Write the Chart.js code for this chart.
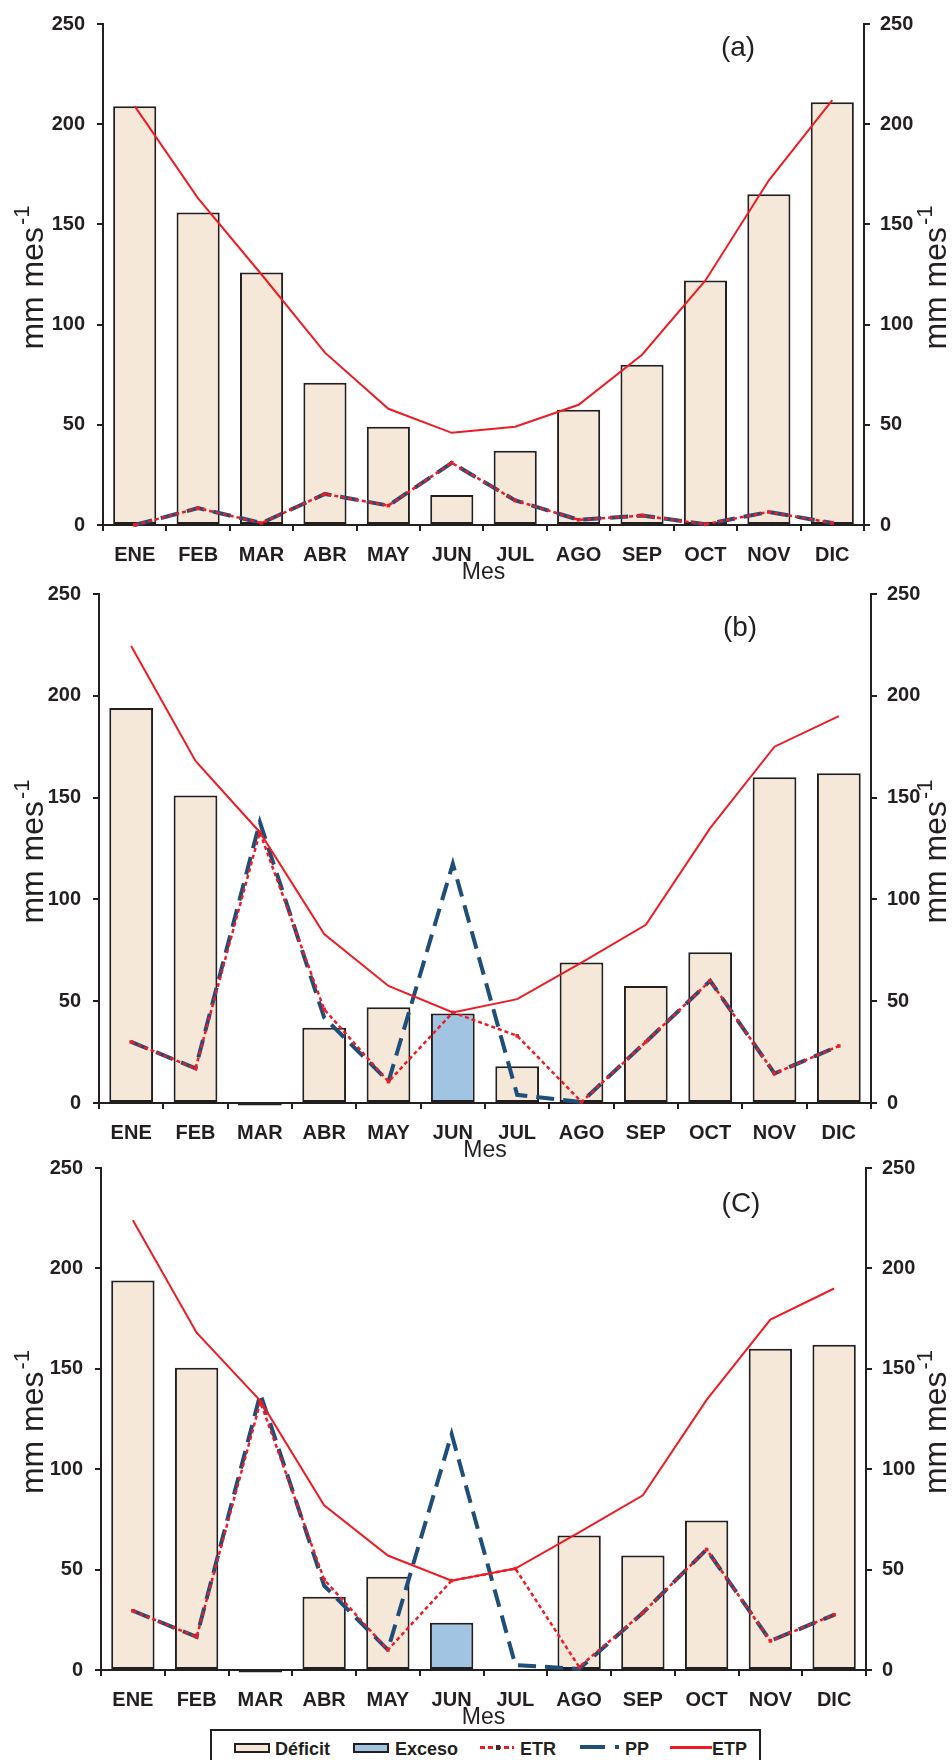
<!DOCTYPE html>
<html>
<head>
<meta charset="utf-8">
<script src="https://cdn.jsdelivr.net/npm/chart.js@4.4.1/dist/chart.umd.min.js"></script>
<style>
  html, body { margin:0; padding:0; background:#fff; }
  body { width:952px; height:1760px; position:relative; overflow:hidden; font-family:"Liberation Sans", Arial, sans-serif; }
  canvas { position:absolute; left:0; }
  #legend { position:absolute; left:210px; top:1729px; width:551px; height:44px; border:2px solid #231f20; box-sizing:border-box; background:#fff; }
  .lg { position:absolute; font-weight:bold; font-size:18px; color:#231f20; top:8px; line-height:20px; }
  .sw { position:absolute; top:12px; height:10px; box-sizing:border-box; border:2px solid #231f20; }
  .ln { position:absolute; }
</style>
</head>
<body>
<canvas id="cA"></canvas>
<canvas id="cB"></canvas>
<canvas id="cC"></canvas>
<div id="legend">
  <div class="sw" style="left:22px;width:36px;background:#f5e8d9"></div>
  <div class="lg" style="left:63px">Déficit</div>
  <div class="sw" style="left:141px;width:36px;background:#a0c4e2"></div>
  <div class="lg" style="left:183px">Exceso</div>
  <div class="ln" style="left:268px;top:15px;width:34px;height:3px;background:repeating-linear-gradient(90deg,#ed1c24 0 5px,transparent 5px 8px)"></div>
  <div class="ln" style="left:284px;top:14px;width:4px;height:5px;background:#3a2a2a"></div>
  <div class="lg" style="left:308px">ETR</div>
  <div class="ln" style="left:368px;top:14px;width:25px;height:4px;background:#1f4e79"></div>
  <div class="ln" style="left:403px;top:14px;width:4px;height:4px;background:#1f4e79"></div>
  <div class="lg" style="left:413px">PP</div>
  <div class="ln" style="left:458px;top:15px;width:42px;height:3px;background:#ed1c24"></div>
  <div class="lg" style="left:500px">ETP</div>
</div>
<script>
const months = ['ENE','FEB','MAR','ABR','MAY','JUN','JUL','AGO','SEP','OCT','NOV','DIC'];
const yTickValues = [0, 50, 100, 150, 200, 250];
const seriesNames = ['Déficit', 'Exceso', 'ETR', 'PP', 'ETP'];
const panelLabels = ['(a)', '(b)', '(C)'];
const yTitle = 'mm mes';
const yTitleSup = '-1';
const xTitle = 'Mes';

// Panel (a)
const deficitA = [209, 156, 126, 71, 49, 15, 37, 57.5, 80, 122, 165, 211];
const excesoA  = [null, null, null, null, null, null, null, null, null, null, null, null];
const etrA     = [0, 8.4, 1, 15.5, 9.7, 31, 12.3, 2.6, 4.7, 0.4, 6.5, 1];
const ppA      = [0, 8.4, 1, 15.5, 9.7, 31, 12.3, 2.6, 4.7, 0.4, 6.5, 1];
const etpA     = [209, 163, 125, 86, 58, 46, 49, 60, 85, 122, 172, 212];

// Panel (b)
const deficitB = [194, 151, -1.2, 37, 47, null, 18, 69, 57.5, 74, 160, 162];
const excesoB  = [null, null, null, null, null, 44, null, null, null, null, null, null];
const etrB     = [30, 17, 133, 46, 10.5, 44.5, 33, 0.5, 30, 60, 14.5, 28];
const ppB      = [30, 17, 138, 42, 10.5, 117.5, 4, 0.5, 30, 60, 14.5, 28];
const etpB     = [224.5, 168, 133, 83, 57.5, 44.5, 51, 69, 87.5, 135, 175, 190];

// Panel (c)
const deficitC = [194, 150.5, -1.2, 36.5, 46.5, null, null, 67, 57, 74.5, 160, 162];
const excesoC  = [null, null, null, null, null, 23.5, null, null, null, null, null, null];
const etrC     = [29.5, 16.5, 133.5, 45, 10, 44.5, 50.5, 1.5, 28.5, 60, 14.5, 27.5];
const ppC      = [29.5, 16.5, 137.5, 42, 10, 117.5, 2.5, 0.5, 28.5, 60, 14.5, 27.5];
const etpC     = [224, 168, 134, 82, 57, 44.5, 50.5, 68.5, 87, 134.5, 174.5, 190];

const INK = '#231f20';
const BEIGE = '#f5e8d9';
const BLUEFILL = '#a0c4e2';
const RED = '#ed1c24';
const NAVY = '#1f4e79';
const FONT = '"Liberation Sans", Arial, sans-serif';

const panels = [
  {id:'cA', plotTop:17,   plotBottom:525,  left:103, right:864, label:panelLabels[0], lx:738, ly:48,
   data:[deficitA, excesoA, etrA, ppA, etpA]},
  {id:'cB', plotTop:587,  plotBottom:1103, left:99,  right:871, label:panelLabels[1], lx:740, ly:628,
   data:[deficitB, excesoB, etrB, ppB, etpB]},
  {id:'cC', plotTop:1161, plotBottom:1670, left:101, right:866, label:panelLabels[2], lx:741, ly:1204,
   data:[deficitC, excesoC, etrC, ppC, etpC]},
];

const TOPPAD = 17, XAXISH = 65, W = 952;

const decorPlugin = {
  id: 'decor',
  afterDraw(chart) {
    const p = chart.options.plugins.decor;
    const ctx = chart.ctx;
    const ca = chart.chartArea;
    ctx.save();
    ctx.fillStyle = INK;
    ctx.font = '28px ' + FONT;
    ctx.textAlign = 'center';
    ctx.textBaseline = 'middle';
    ctx.fillText(p.label, p.lx, p.ly - p.canvasTop);
    ctx.font = '23px ' + FONT;
    ctx.fillText(xTitle, (ca.left + ca.right) / 2, ca.bottom + 48);
    const cy = (ca.top + ca.bottom) / 2 + 3;
    [43, 946].forEach(x => {
      ctx.save();
      ctx.translate(x, cy);
      ctx.rotate(-Math.PI / 2);
      ctx.textAlign = 'left';
      ctx.textBaseline = 'alphabetic';
      ctx.font = '32px ' + FONT;
      const w1 = ctx.measureText(yTitle).width;
      ctx.font = '22px ' + FONT;
      const w2 = ctx.measureText(yTitleSup).width;
      const x0 = -(w1 + w2 + 2) / 2;
      ctx.font = '32px ' + FONT;
      ctx.fillText(yTitle, x0, 0);
      ctx.font = '22px ' + FONT;
      ctx.fillText(yTitleSup, x0 + w1 + 2, -14);
      ctx.restore();
    });
    ctx.restore();
  }
};

function yScale(position, width, pad) {
  return {
    type: 'linear', position, min: 0, max: 250,
    afterFit(s) { s.width = width; },
    afterBuildTicks(s) { s.ticks = yTickValues.map(v => ({value: v})); },
    border: {display: true, color: INK, width: 2},
    grid: {display: true, drawOnChartArea: false, drawTicks: true, tickLength: 6, color: INK, lineWidth: 2},
    ticks: {color: INK, font: {family: FONT, size: 20, weight: 'bold'}, padding: pad},
  };
}

panels.forEach(p => {
  const canvas = document.getElementById(p.id);
  const canvasTop = p.plotTop - TOPPAD;
  const H = (p.plotBottom - p.plotTop) + TOPPAD + XAXISH;
  canvas.width = W; canvas.height = H;
  canvas.style.top = canvasTop + 'px';
  canvas.style.width = W + 'px'; canvas.style.height = H + 'px';
  const [def, exc, etr, pp, etp] = p.data;
  new Chart(canvas, {
    type: 'bar',
    data: {
      labels: months,
      datasets: [
        {label: seriesNames[0], data: def, backgroundColor: BEIGE, borderColor: INK, borderWidth: 2,
         borderSkipped: false, grouped: false, categoryPercentage: 1, barPercentage: 0.68, order: 5, clip: false, yAxisID: 'y'},
        {label: seriesNames[1], data: exc, backgroundColor: BLUEFILL, borderColor: INK, borderWidth: 2,
         borderSkipped: false, grouped: false, categoryPercentage: 1, barPercentage: 0.68, order: 4, clip: false, yAxisID: 'y'},
        {type: 'line', label: seriesNames[3], data: pp, borderColor: NAVY, borderWidth: 4, borderDash: [18, 9],
         pointRadius: 0, tension: 0, fill: false, order: 3, clip: false, yAxisID: 'y'},
        {type: 'line', label: seriesNames[2], data: etr, borderColor: RED, borderWidth: 2.5, borderDash: [4, 3],
         pointStyle: 'rect', pointRadius: 2.5, pointBackgroundColor: RED, pointBorderWidth: 0,
         tension: 0, fill: false, order: 2, clip: false, yAxisID: 'y'},
        {type: 'line', label: seriesNames[4], data: etp, borderColor: RED, borderWidth: 2,
         pointRadius: 0, tension: 0, fill: false, order: 1, clip: false, yAxisID: 'y'},
      ]
    },
    options: {
      responsive: false, animation: false, devicePixelRatio: 1,
      layout: {padding: {top: TOPPAD, left: 0, right: 0, bottom: 0}},
      events: [],
      plugins: {
        legend: {display: false}, tooltip: {enabled: false}, title: {display: false},
        decor: {label: p.label, lx: p.lx, ly: p.ly, canvasTop},
      },
      scales: {
        x: {
          type: 'category', offset: true,
          afterFit(s) { s.height = XAXISH; },
          border: {display: true, color: INK, width: 2},
          grid: {display: true, offset: true, drawOnChartArea: false, drawTicks: true, tickLength: 6, color: INK, lineWidth: 2},
          ticks: {color: INK, font: {family: FONT, size: 20, weight: 'bold'}, padding: 12, maxRotation: 0, autoSkip: false},
        },
        y: yScale('left', p.left, 12),
        y2: yScale('right', W - p.right, 10),
      }
    },
    plugins: [decorPlugin]
  });
});
</script>
</body>
</html>
